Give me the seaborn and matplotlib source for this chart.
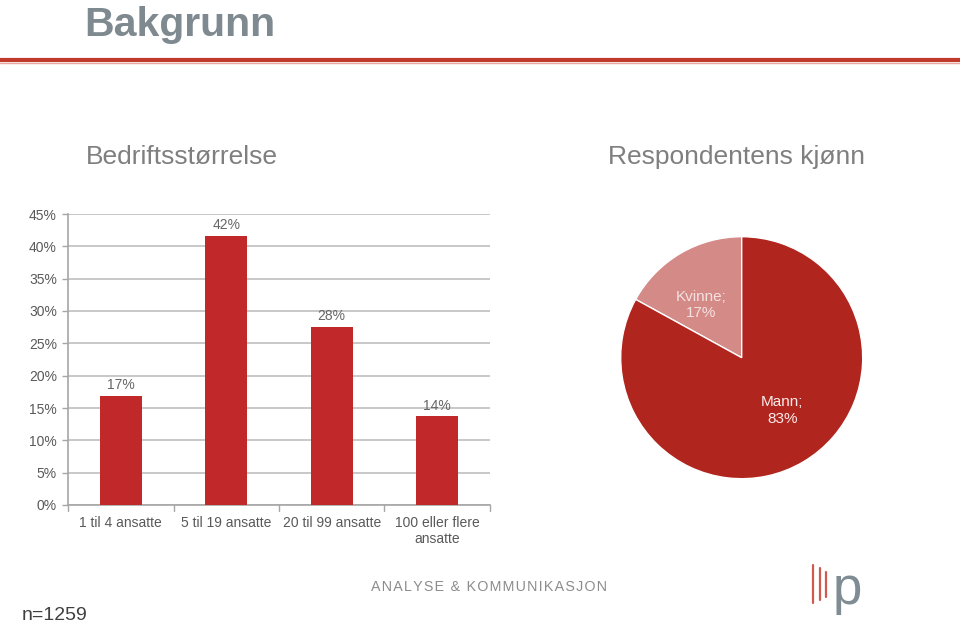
import matplotlib
matplotlib.use("Agg")
import matplotlib.pyplot as plt
import seaborn as sns
import pandas as pd
import numpy as np
from matplotlib.lines import Line2D

# ---- data ----
categories = ["1 til 4 ansatte", "5 til 19 ansatte", "20 til 99 ansatte", "100 eller flere\nansatte"]
company_share = [16.9, 41.6, 27.6, 13.7]
gender_labels = ["Kvinne", "Mann"]
gender_share = [17, 83]
yticks = [0, 5, 10, 15, 20, 25, 30, 35, 40, 45]

sns.set_theme(style="white")
plt.rcParams["font.family"] = ["Liberation Sans", "DejaVu Sans"]

BAR = "#C0282A"
GRID = "#BFBFBF"
TXT = "#595959"
TITLE = "#7F7F7F"

fig = plt.figure(figsize=(9.6, 6.25), dpi=100)

# header
fig.text(84 / 960, 1 - 36 / 625, "Bakgrunn", fontsize=29.5, fontweight="bold",
         color="#7F8990", ha="left", va="baseline")
fig.add_artist(Line2D([0, 1], [1 - 60 / 625, 1 - 60 / 625], transform=fig.transFigure,
                      color="#C0392B", lw=3))
fig.add_artist(Line2D([0, 1], [1 - 62.5 / 625, 1 - 62.5 / 625], transform=fig.transFigure,
                      color="#E8A8A0", lw=1))

# bar chart
ax = fig.add_axes([68 / 960, 1 - 505 / 625, 422 / 960, 291 / 625])
df = pd.DataFrame({"cat": categories, "val": company_share})
sns.barplot(data=df, x="cat", y="val", color=BAR, width=0.4, saturation=1, ax=ax,
            zorder=3, linewidth=0)
ax.set_ylim(0, 45)
ax.set_xlim(-0.5, len(categories) - 0.5)
ax.set_yticks(yticks)
ax.set_yticklabels([f"{t}%" for t in yticks])
ax.yaxis.grid(True, color=GRID, lw=1.2, zorder=0)
ax.set_axisbelow(True)
for s in ["top", "right"]:
    ax.spines[s].set_visible(False)
for s in ["left", "bottom"]:
    ax.spines[s].set_color("#A6A6A6")
    ax.spines[s].set_linewidth(1.2)
ax.set_xlabel("")
ax.set_ylabel("")
ax.tick_params(axis="y", labelsize=10, colors=TXT, length=4, width=1, color="#A6A6A6", pad=4, direction="out", left=True)
ax.tick_params(axis="x", labelsize=10, colors=TXT, length=0, pad=8)
# category boundary ticks
for b in range(len(categories) + 1):
    ax.plot([b - 0.5, b - 0.5], [0, -0.9], color="#A6A6A6", lw=1, clip_on=False)
for i, v in enumerate(company_share):
    ax.text(i, v + 0.6, f"{round(v)}%", ha="center", va="bottom", fontsize=10, color="#666666")
fig.text(182 / 960, 1 - 157 / 625, "Bedriftsstørrelse", fontsize=19, color=TITLE,
         ha="center", va="center")

# pie chart
pax = fig.add_axes([(741.7 - 121) / 960, 1 - (357.7 + 121) / 625, 242 / 960, 242 / 625])
wedges, texts = pax.pie(
    gender_share,
    labels=[f"{n};\n{v}%" for n, v in zip(gender_labels, gender_share)],
    colors=["#D48A87", "#B0261F"],
    startangle=90, counterclock=True, labeldistance=0.55,
    textprops=dict(ha="center", va="center", fontsize=11),
)
for w, t in zip(wedges, texts):
    ang = np.deg2rad((w.theta1 + w.theta2) / 2 + 7)
    t.set_position((0.55 * np.cos(ang), 0.55 * np.sin(ang)))
texts[0].set_color("#F4E1E0")
texts[1].set_color("#FAECEB")
pax.set_xlim(-1, 1)
pax.set_ylim(-1, 1)
pax.set_aspect("equal")
fig.text(737 / 960, 1 - 157 / 625, "Respondentens kjønn", fontsize=19, color=TITLE,
         ha="center", va="center")

# footer
fig.text(22 / 960, 1 - 616 / 625, "n=1259", fontsize=14, color="#404040", ha="left", va="center")
fig.text(489 / 960, 1 - 587 / 625, "\u200a".join("ANALYSE & KOMMUNIKASJON"),
         fontsize=10.3, color="#8C8C8C", ha="center", va="center")
for x, y0, y1 in [(813, 565, 603), (819.5, 568, 600), (826, 572, 597)]:
    fig.add_artist(Line2D([x / 960, x / 960], [1 - y1 / 625, 1 - y0 / 625],
                          transform=fig.transFigure, color="#D05A50", lw=1.6))
fig.text(847 / 960, 1 - 590 / 625, "p", fontsize=38, color="#7F8C94", ha="center", va="center")

fig.savefig("out.png", dpi=100)
